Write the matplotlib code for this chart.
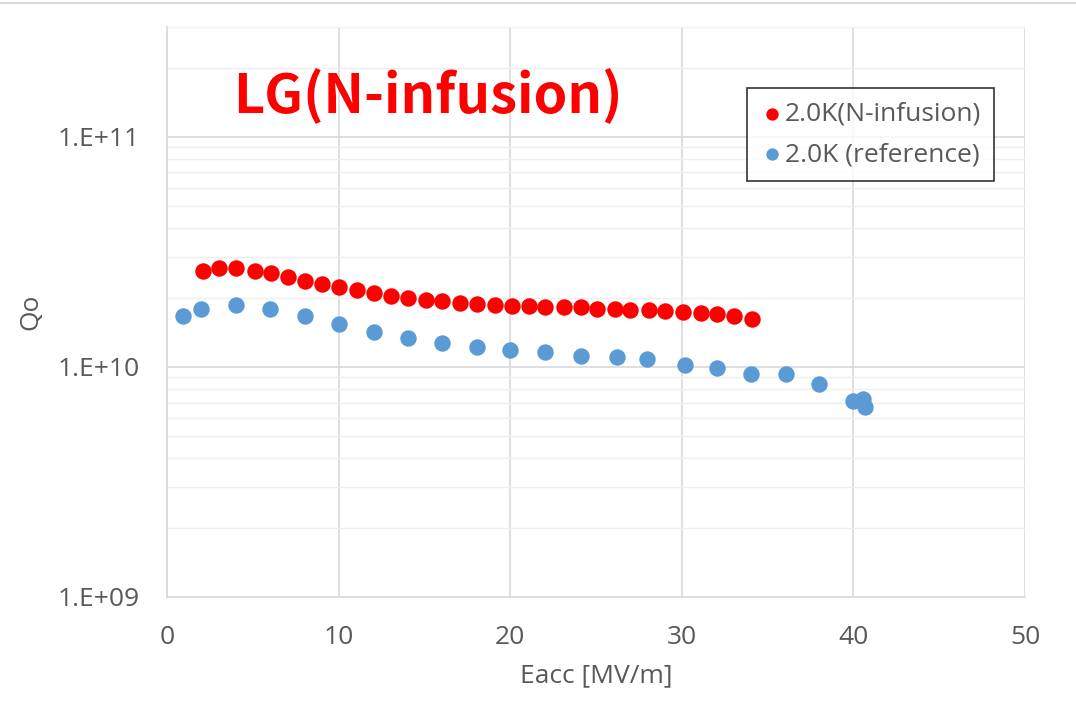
import matplotlib
matplotlib.use('Agg')
import matplotlib.pyplot as plt
from matplotlib.lines import Line2D
from matplotlib.ticker import LogLocator, FixedLocator

# データ
red_x = [2.1, 3.05, 4.05, 5.1, 6.05, 7.05, 8.05, 9.05, 10.05, 11.05, 12.05, 13.05, 14.05,
         15.1, 16.05, 17.1, 18.05, 19.1, 20.1, 21.1, 22.0, 23.15, 24.1, 25.05, 26.1, 27.0,
         28.1, 29.05, 30.05, 31.1, 32.05, 33.05, 34.1]
red_q = [2.62e10, 2.69e10, 2.69e10, 2.62e10, 2.55e10, 2.45e10, 2.37e10, 2.30e10, 2.23e10,
         2.16e10, 2.10e10, 2.04e10, 2.00e10, 1.95e10, 1.93e10, 1.90e10, 1.88e10, 1.85e10,
         1.84e10, 1.84e10, 1.82e10, 1.82e10, 1.82e10, 1.79e10, 1.79e10, 1.77e10, 1.76e10,
         1.75e10, 1.74e10, 1.72e10, 1.69e10, 1.67e10, 1.62e10]

blue_x = [0.95, 2.0, 4.05, 6.0, 8.05, 10.0, 12.05, 14.05, 16.0, 18.05, 20.0, 22.05, 24.1,
          26.2, 28.0, 30.2, 32.05, 34.05, 36.05, 38.0, 40.0, 40.55, 40.65]
blue_q = [1.66e10, 1.79e10, 1.86e10, 1.78e10, 1.66e10, 1.54e10, 1.42e10, 1.33e10, 1.27e10,
          1.22e10, 1.19e10, 1.16e10, 1.12e10, 1.10e10, 1.08e10, 1.02e10, 9.87e9, 9.29e9,
          9.29e9, 8.41e9, 7.14e9, 7.26e9, 6.72e9]

x_ticks = [0, 10, 20, 30, 40, 50]
y_ticks = [1e9, 1e10, 1e11]
y_ticklabels = ['1.E+09', '1.E+10', '1.E+11']

plt.rcParams['font.family'] = ['Open Sans', 'DejaVu Sans']
text_color = '#595959'
grid_major = '#D9D9D9'
grid_minor = '#EFEFEF'

fig = plt.figure(figsize=(10.76, 7.05), dpi=100)
ax = fig.add_axes([0.1552, 0.1532, 0.7974, 0.8085])

ax.set_yscale('log')
ax.set_xlim(0, 50)
ax.set_ylim(1e9, 3e11)

# グリッド
ax.xaxis.set_major_locator(FixedLocator(x_ticks))
ax.yaxis.set_major_locator(FixedLocator(y_ticks))
ax.yaxis.set_minor_locator(LogLocator(base=10, subs=range(2, 10)))
ax.set_yticks(y_ticks)
ax.set_yticklabels(y_ticklabels)
ax.yaxis.set_minor_formatter(plt.NullFormatter())
ax.grid(True, which='major', color=grid_major, linewidth=1.2)
ax.grid(True, which='minor', axis='y', color=grid_minor, linewidth=1.0)
ax.set_axisbelow(True)
ax.tick_params(which='both', length=0, labelsize=19, colors=text_color)
ax.tick_params(axis='y', pad=20)
ax.tick_params(axis='x', pad=20)

for side in ['top', 'right']:
    ax.spines[side].set_visible(False)
for side in ['left', 'bottom']:
    ax.spines[side].set_color(grid_major)
    ax.spines[side].set_linewidth(1.2)

ax.scatter(red_x, red_q, s=140, color='#FF0000', label='2.0K(N-infusion)', zorder=3, linewidths=0)
ax.scatter(blue_x, blue_q, s=140, color='#5B9BD5', label='2.0K (reference)', zorder=3, linewidths=0)

ax.set_xlabel('Eacc [MV/m]', fontsize=19, color=text_color, labelpad=10)
ax.set_ylabel('Qo', fontsize=19, color=text_color, labelpad=10)

leg = ax.legend(loc='upper left', bbox_to_anchor=(746.7 / 1076, 1 - 88.3 / 705),
                bbox_transform=fig.transFigure, fontsize=19, frameon=True, fancybox=False,
                edgecolor='black', markerscale=0.75, handletextpad=0.05, borderpad=0.5,
                labelspacing=0.6, handlelength=0.9, borderaxespad=0)
leg.get_frame().set_linewidth(1.2)
for t in leg.get_texts():
    t.set_color(text_color)

fig.text(428 / 1076, 1 - 97 / 705, 'LG(N-infusion)', color='#FF0000', fontsize=39,
         fontweight='bold', ha='center', va='center',
         family=['Noto Sans CJK JP', 'DejaVu Sans'])

# 上の枠線
fig.add_artist(Line2D([0, 1], [1 - 3 / 705, 1 - 3 / 705], transform=fig.transFigure,
                      color='#D9D9D9', linewidth=1.5))

fig.savefig('out.png', dpi=100)
